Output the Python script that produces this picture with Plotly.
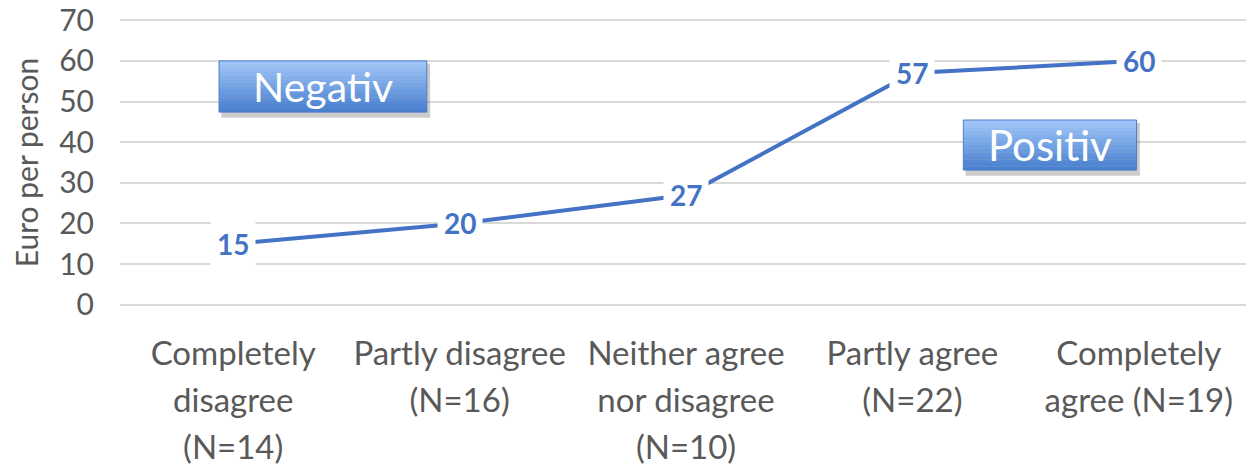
import plotly.graph_objects as go

CATEGORIES = [
    "Completely<br>disagree<br>(N=14)",
    "Partly disagree<br>(N=16)",
    "Neither agree<br>nor disagree<br>(N=10)",
    "Partly agree<br>(N=22)",
    "Completely<br>agree (N=19)",
]
EURO_PER_PERSON = [15, 20, 27, 57, 60]

BLUE = "#4472C4"
GREY_TEXT = "#595959"
FONT = "Lato, Open Sans, sans-serif"

fig = go.Figure()
fig.add_trace(go.Scatter(
    x=CATEGORIES,
    y=EURO_PER_PERSON,
    mode="lines",
    line=dict(color=BLUE, width=4),
    hoverinfo="skip",
    showlegend=False,
))

# data labels on white patches that cut the line, like the original
for cat, val in zip(CATEGORIES, EURO_PER_PERSON):
    fig.add_annotation(
        x=cat, y=val, text=f"<b>{val}</b>", showarrow=False,
        font=dict(family=FONT, size=28, color=BLUE),
        bgcolor="white", borderpad=6,
    )


def label_box(x0, x1, y0, y1, text, size):
    # shadow
    fig.add_shape(type="rect", xref="paper", yref="paper",
                  x0=x0 + 0.002, x1=x1 + 0.003, y0=y0 - 0.02, y1=y1 - 0.01,
                  fillcolor="rgba(0,0,0,0.2)", line=dict(width=0), layer="above")
    # vertical gradient made of stripes
    top = (162, 200, 250)
    bot = (70, 125, 205)
    n = 14
    for i in range(n):
        t = (i + 0.5) / n
        c = tuple(round(top[k] + (bot[k] - top[k]) * t) for k in range(3))
        fig.add_shape(type="rect", xref="paper", yref="paper",
                      x0=x0, x1=x1,
                      y0=y1 - (y1 - y0) * (i + 1) / n - 0.001,
                      y1=y1 - (y1 - y0) * i / n,
                      fillcolor=f"rgb{c}", line=dict(width=0), layer="above")
    fig.add_shape(type="rect", xref="paper", yref="paper",
                  x0=x0, x1=x1, y0=y0, y1=y1,
                  line=dict(color="#4A7CC8", width=1), layer="above")
    fig.add_annotation(x=(x0 + x1) / 2, y=(y0 + y1) / 2, xref="paper", yref="paper",
                       xanchor="center", yanchor="middle",
                       text=text, showarrow=False,
                       font=dict(family=FONT, size=size, color="white"))


label_box(0.0875, 0.271, 0.676, 0.854, "Negativ", 41)
label_box(0.745, 0.898, 0.474, 0.648, "Positiv", 42)

# bigger base font for the tick text gives wider line spacing; the lines
# themselves are drawn at the smaller size
tick_text = ["<br>".join(f"<span style='font-size:33px'>{part}</span>"
                         for part in c.split("<br>")) for c in CATEGORIES]

# margins allow for the 8px default body margin of the html page
fig.update_layout(
    width=1254, height=465,
    margin=dict(l=112, r=10, t=11, b=167),
    plot_bgcolor="white", paper_bgcolor="white",
    font=dict(family=FONT, color=GREY_TEXT),
)
fig.update_xaxes(
    type="category", range=[-0.5, 4.5], automargin=False,
    showgrid=False, showline=False, zeroline=False,
    tickvals=CATEGORIES, ticktext=tick_text,
    tickfont=dict(size=36, color=GREY_TEXT), ticks="", ticklabelstandoff=22,
    ticklabeloverflow="allow",
)
fig.update_yaxes(
    range=[-0.3, 70.3], tickvals=[0, 10, 20, 30, 40, 50, 60, 70],
    showgrid=True, gridcolor="#D9D9D9", gridwidth=2,
    zeroline=False, showline=False, ticks="", automargin=False,
    tickfont=dict(size=30, color=GREY_TEXT), ticklabelstandoff=25,
    ticklabeloverflow="allow",
    title=dict(text="Euro per person", font=dict(size=30, color=GREY_TEXT), standoff=14),
)

fig.write_html("out.html")
